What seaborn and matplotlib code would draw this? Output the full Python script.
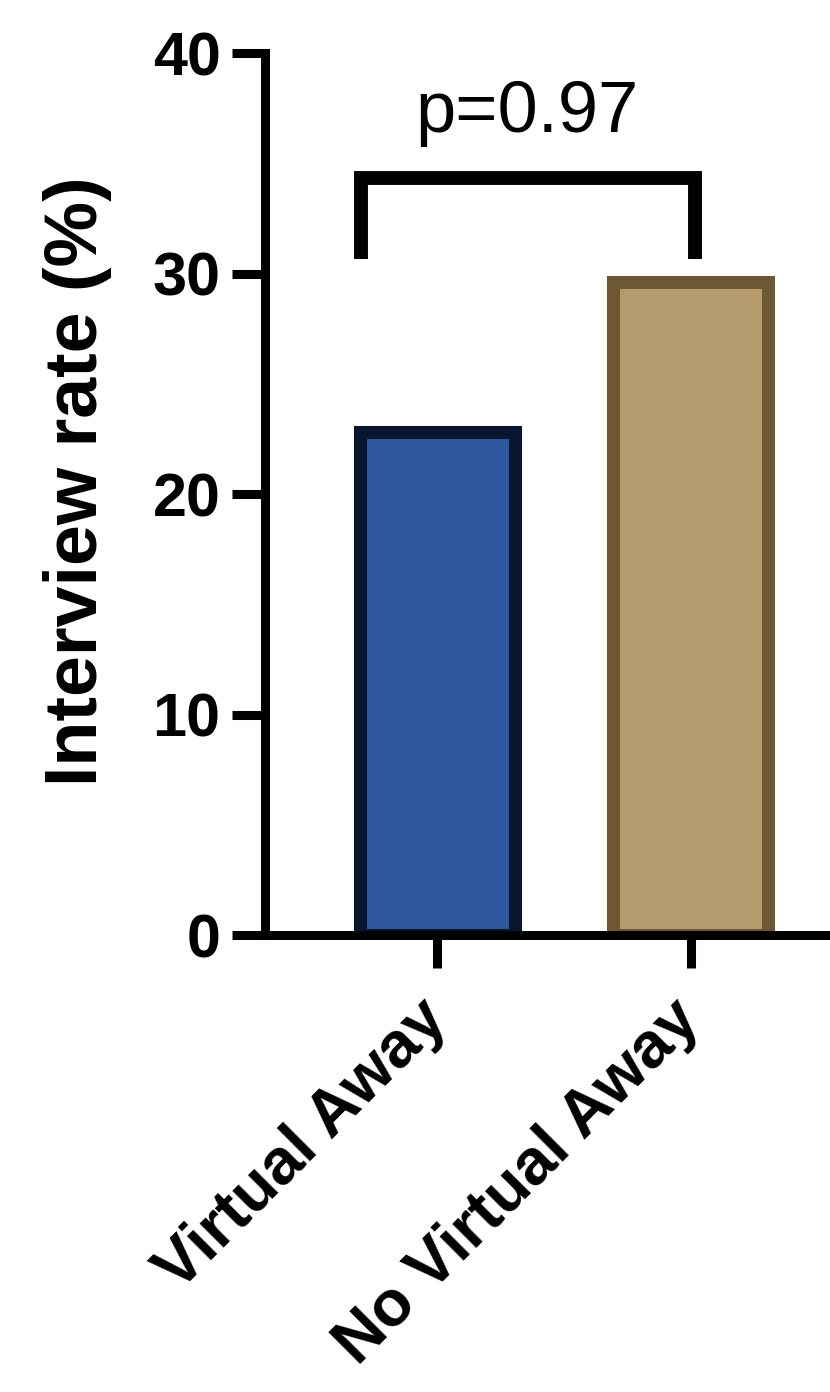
import matplotlib
matplotlib.use("Agg")
import matplotlib.pyplot as plt
import seaborn as sns

# === data ===
groups = ["Virtual Away", "No Virtual Away"]
rates = [22.8, 29.6]          # interview rate (%)
p_label = "p=0.97"

# === style ===
fill_colors = ["#2F58A0", "#B59B6E"]
edge_colors = ["#08162F", "#6D5833"]

sns.set_style("ticks")
plt.rcParams["font.family"] = ["Liberation Sans", "DejaVu Sans"]
plt.rcParams["text.color"] = "black"
plt.rcParams["axes.labelcolor"] = "black"
plt.rcParams["xtick.color"] = "black"
plt.rcParams["ytick.color"] = "black"

fig = plt.figure(figsize=(8.3, 13.92), dpi=100)
ax = fig.add_axes([0.3193, 0.3283, 0.6807, 0.6336])

sns.barplot(x=groups, y=rates, hue=groups, palette=fill_colors, legend=False,
            width=0.61, linewidth=9.4, saturation=1, ax=ax)
for patch, ec in zip(ax.patches, edge_colors):
    patch.set_edgecolor(ec)
    patch.set_joinstyle("miter")

ax.set_ylim(0, 40)
ax.set_xlim(-0.68, 1.55)
ax.set_yticks([0, 10, 20, 30, 40])

sns.despine(ax=ax)
for side in ["left", "bottom"]:
    ax.spines[side].set_linewidth(6.5)
    ax.spines[side].set_color("black")
    ax.spines[side].set_zorder(5)

ax.tick_params(axis="both", direction="out", length=24, width=6.5, color="black",
               labelcolor="black")
ax.tick_params(axis="y", pad=8, labelsize=44)
ax.tick_params(axis="x", pad=30, labelsize=46.5)
for lab in ax.get_yticklabels():
    lab.set_fontweight("bold")
for lab in ax.get_xticklabels():
    lab.set_fontweight("bold")
    lab.set_rotation(45)
    lab.set_ha("right")
    lab.set_va("center")
    lab.set_rotation_mode("anchor")

ax.set_xlabel("")
ax.set_ylabel("Interview rate (%)", fontsize=53, fontweight="bold", color="black")
ax.yaxis.set_label_coords(-0.271, 0.514)

# significance bracket
ax.plot([-0.30, -0.30, 1.016, 1.016], [30.66, 34.35, 34.35, 30.66],
        color="black", lw=10, solid_joinstyle="miter", solid_capstyle="butt",
        clip_on=False, zorder=6)
ax.text(0.352, 36.4, p_label, ha="center", va="baseline", fontsize=52, color="black")

fig.savefig("out.png", dpi=100)
